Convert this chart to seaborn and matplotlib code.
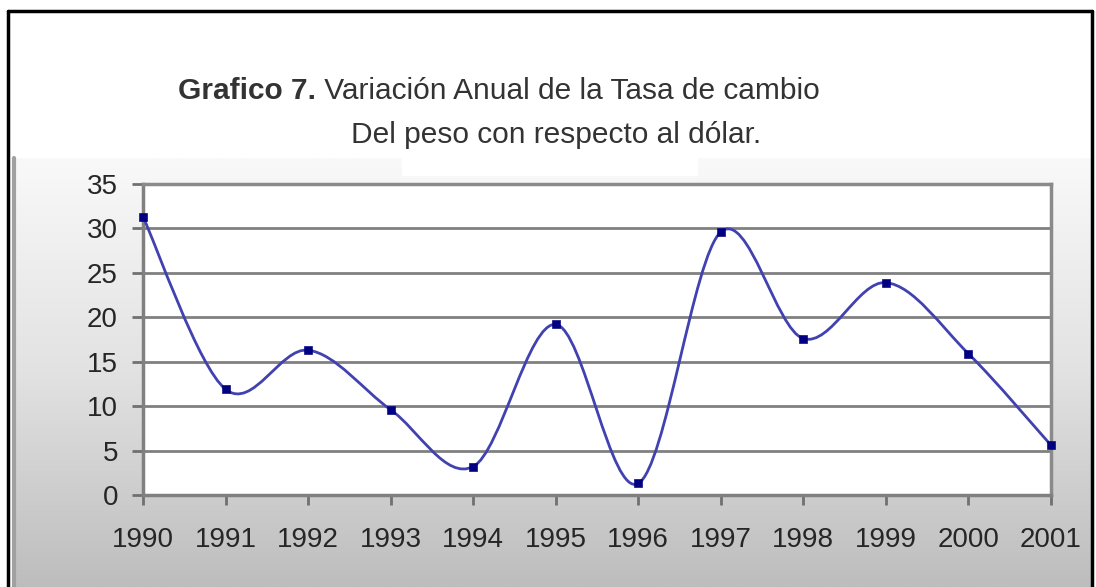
import numpy as np
import pandas as pd
import matplotlib
matplotlib.use("Agg")
import matplotlib.pyplot as plt
import seaborn as sns
from matplotlib.path import Path
from matplotlib.patches import PathPatch, Rectangle
from matplotlib.lines import Line2D

# Data
years = [1990, 1991, 1992, 1993, 1994, 1995, 1996, 1997, 1998, 1999, 2000, 2001]
variacion = [31.3, 11.9, 16.3, 9.6, 3.2, 19.2, 1.3, 29.6, 17.6, 23.9, 15.9, 5.6]
y_ticks = [0, 5, 10, 15, 20, 25, 30, 35]

title_bold = "Grafico 7."
title_rest = " Variación Anual de la Tasa de cambio"
title_line2 = "Del peso con respecto al dólar."

df = pd.DataFrame({"Año": years, "Variación": variacion})

sns.set_style("white")
plt.rcParams["font.family"] = ["Liberation Sans", "DejaVu Sans"]

W, H = 1096, 587
fig = plt.figure(figsize=(W / 100, H / 100), dpi=100)
fig.patch.set_facecolor("white")

# gradient gray background of the chart area
bg = fig.add_axes([12 / W, 0, (1091 - 12) / W, (H - 158) / H])
grad = np.linspace(0, 1, 256).reshape(-1, 1)
bg.imshow(grad, aspect="auto", cmap=matplotlib.colors.LinearSegmentedColormap.from_list(
    "g", ["#f9f9f9", "#e2e2e2", "#bdbdbd"]), extent=[0, 1, 0, 1])
bg.add_patch(Rectangle((390 / 1079, 0.96), 295 / 1079, 0.05, color="white", zorder=3))
bg.set_axis_off()

# frame lines
fig.add_artist(Line2D([8 / W, 8 / W], [0, 1 - 11 / H], transform=fig.transFigure, color="black", lw=2.5))
fig.add_artist(Line2D([8 / W, 1092 / W], [1 - 11 / H, 1 - 11 / H], transform=fig.transFigure, color="black", lw=2.5))
fig.add_artist(Line2D([1092 / W, 1092 / W], [0, 1 - 11 / H], transform=fig.transFigure, color="black", lw=2.5))
fig.add_artist(Line2D([14 / W, 14 / W], [0, 1 - 158 / H], transform=fig.transFigure, color="#a0a0a0", lw=3))

# main plot area
ax = fig.add_axes([143 / W, 1 - 495 / H, (1051 - 143) / W, (495 - 184) / H])
ax.set_facecolor("white")
ax.set_xlim(1990, 2001)
ax.set_ylim(0, 35)

for t in y_ticks[1:]:
    ax.axhline(t, color="#808080", lw=2, zorder=1)

# smoothed line (Excel-style bezier through the points)
pts = np.column_stack([years, variacion]).astype(float)
n = len(pts)
verts = [pts[0]]
codes = [Path.MOVETO]
for i in range(n - 1):
    p0 = pts[max(i - 1, 0)]
    p1 = pts[i]
    p2 = pts[i + 1]
    p3 = pts[min(i + 2, n - 1)]
    verts += [p1 + (p2 - p0) / 6, p2 - (p3 - p1) / 6, p2]
    codes += [Path.CURVE4] * 3
ax.add_patch(PathPatch(Path(verts, codes), fill=False, edgecolor="#4141b0", lw=2, zorder=3, clip_on=False))

sns.scatterplot(data=df, x="Año", y="Variación", marker="s", color="#000080", s=32,
                edgecolor="#000080", zorder=4, clip_on=False, ax=ax)

ax.set_xticks(years)
ax.set_yticks(y_ticks)
ax.set_xlabel("")
ax.set_ylabel("")
ax.tick_params(axis="x", direction="out", length=7, width=2, color="#707070",
               labelsize=20, labelcolor="#262626", pad=16, bottom=True)
ax.tick_params(axis="y", direction="out", length=8, width=2, color="#707070",
               labelsize=20, labelcolor="#262626", pad=10, left=True)
for side in ["left", "bottom"]:
    ax.spines[side].set_color("#808080")
    ax.spines[side].set_linewidth(2.5)
for side in ["top", "right"]:
    ax.spines[side].set_color("#8a8a8a")
    ax.spines[side].set_linewidth(2.5)
    ax.spines[side].set_visible(True)

# title
t1 = fig.text(178 / W, 1 - 99 / H, title_bold, fontsize=21.5, fontweight="bold", color="#333333", va="baseline")
fig.canvas.draw()
bb = t1.get_window_extent()
fig.text(bb.x1 / W, 1 - 99 / H, title_rest, fontsize=21.5, color="#333333", va="baseline")
fig.text(761 / W, 1 - 143 / H, title_line2, fontsize=21.5, color="#333333", va="baseline", ha="right")

fig.savefig("out.png", dpi=100)
